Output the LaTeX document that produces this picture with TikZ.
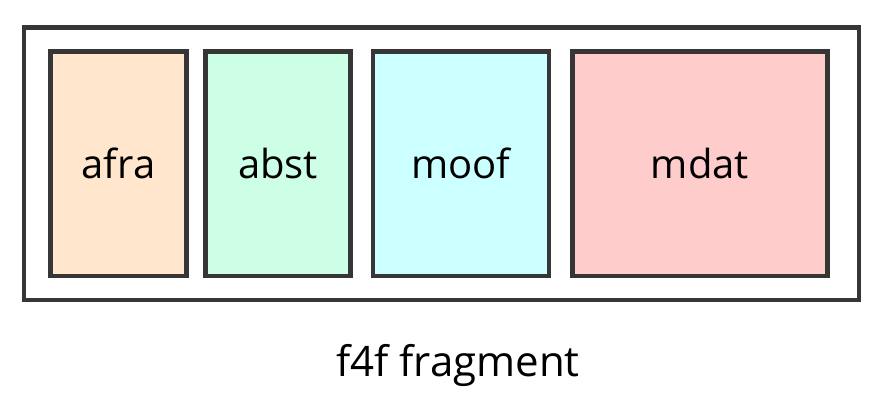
\documentclass[tikz,border=0pt]{standalone}
\usepackage{fontspec}
\setmainfont{Open Sans}
\usepackage{tikz}

\definecolor{boxline}{HTML}{363636}
\definecolor{afrafill}{HTML}{FFE6CC}
\definecolor{abstfill}{HTML}{CCFFE6}
\definecolor{mooffill}{HTML}{CCFFFF}
\definecolor{mdatfill}{HTML}{FFCCCC}

\begin{document}
\begin{tikzpicture}[x=1pt,y=-1pt,line width=4.5pt,
				box node/.style={rectangle,draw=boxline,minimum height=224.5pt,inner sep=0pt,font=\fontsize{40}{46}\selectfont},
				outer node/.style={rectangle,draw=boxline,minimum width=835pt,minimum height=272.5pt,inner sep=0pt}]
				
				\useasboundingbox (0,0) rectangle (884,400);
				
				\node[outer node] (frag) at (441.5,163.75) {};
				
				\node[box node,fill=afrafill,minimum width=136pt] (afra) at (118.5,163.75) {afra};
				\node[box node,fill=abstfill,minimum width=145pt] (abst) at (278,163.75) {abst};
				\node[box node,fill=mooffill,minimum width=176pt] (moof) at (461,163.75) {moof};
				\node[box node,fill=mdatfill,minimum width=255pt] (mdat) at (700,163.75) {mdat};
				
				\node[font=\fontsize{42}{48}\selectfont] (label) at (458,365) {f4f fragment};
				
				\end{tikzpicture}
\end{document}
